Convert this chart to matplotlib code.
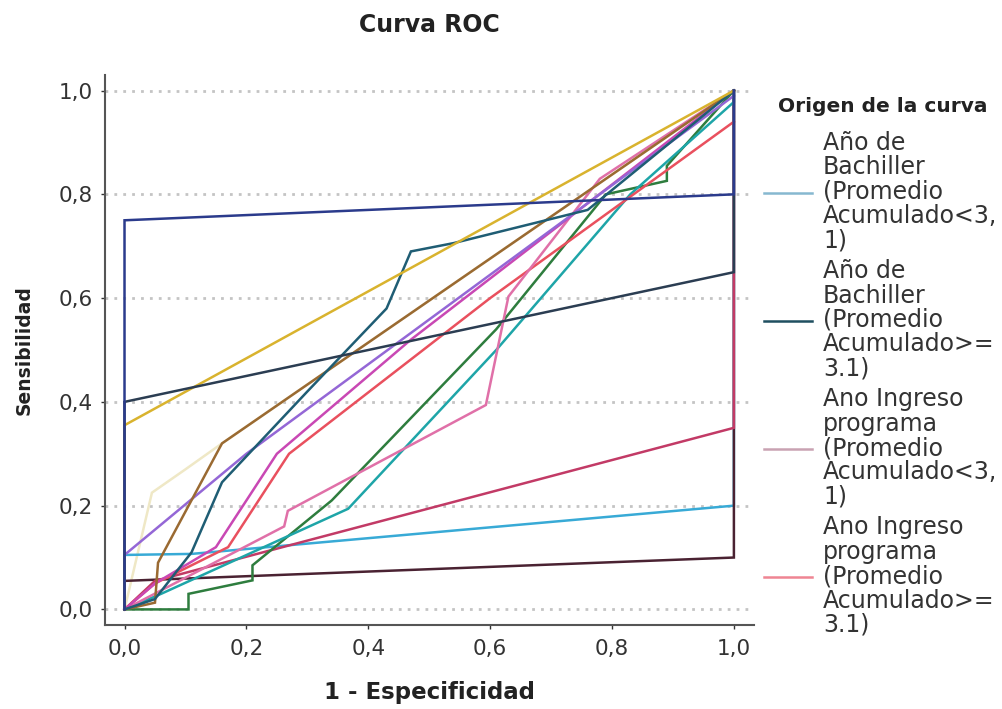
import matplotlib
matplotlib.use("Agg")
import matplotlib.pyplot as plt
from matplotlib.lines import Line2D
from matplotlib.ticker import FuncFormatter

# ---------------- data ----------------
curve_names = [
    "c_navy", "c_slate", "c_gold", "c_cyan", "c_maroon", "c_crimson",
    "c_green", "c_teal", "c_darkteal", "c_olive", "c_purple", "c_pink",
    "c_red", "c_cream", "c_magenta",
]

c_navy_x = [0, 0, 1, 1]
c_navy_y = [0, 0.75, 0.80, 1.0]

c_slate_x = [0, 0, 1, 1]
c_slate_y = [0, 0.40, 0.65, 1.0]

c_gold_x = [0, 0, 1]
c_gold_y = [0, 0.355, 1.0]

c_cyan_x = [0, 0, 0.11, 1, 1]
c_cyan_y = [0, 0.105, 0.107, 0.20, 1.0]

c_maroon_x = [0, 0, 1, 1]
c_maroon_y = [0, 0.055, 0.10, 1.0]

c_crimson_x = [0, 0.05, 1, 1]
c_crimson_y = [0, 0.055, 0.35, 1.0]

c_green_x = [0, 0.105, 0.105, 0.21, 0.21, 0.34, 0.61, 0.79, 0.89, 0.89, 1]
c_green_y = [0, 0, 0.03, 0.056, 0.085, 0.21, 0.54, 0.80, 0.826, 0.855, 1.0]

c_teal_x = [0, 0.06, 0.367, 0.61, 0.83, 1, 1]
c_teal_y = [0, 0.03, 0.194, 0.50, 0.80, 0.978, 1.0]

c_darkteal_x = [0, 0.05, 0.11, 0.16, 0.30, 0.43, 0.47, 0.54, 0.76, 1]
c_darkteal_y = [0, 0.02, 0.11, 0.245, 0.42, 0.58, 0.69, 0.706, 0.77, 1.0]

c_olive_x = [0, 0.05, 0.055, 0.16, 1]
c_olive_y = [0, 0.013, 0.09, 0.32, 1.0]

c_purple_x = [0, 0, 0.2, 1]
c_purple_y = [0, 0.105, 0.30, 0.99]

c_pink_x = [0, 0.262, 0.268, 0.593, 0.63, 0.78, 1]
c_pink_y = [0, 0.16, 0.19, 0.394, 0.603, 0.83, 1.0]

c_red_x = [0, 0.05, 0.17, 0.27, 0.60, 1]
c_red_y = [0, 0.05, 0.12, 0.30, 0.60, 0.94]

c_cream_x = [0, 0.03, 0.045, 0.10, 0.16, 1]
c_cream_y = [0, 0.15, 0.225, 0.27, 0.32, 1.0]

c_magenta_x = [0, 0.05, 0.15, 0.25, 0.47, 1]
c_magenta_y = [0, 0.05, 0.12, 0.30, 0.52, 1.0]

xticks = [0.0, 0.2, 0.4, 0.6, 0.8, 1.0]
yticks = [0.0, 0.2, 0.4, 0.6, 0.8, 1.0]

legend_title = "Origen de la curva"
legend_labels = [
    "Año de\nBachiller\n(Promedio\nAcumulado<3,\n1)",
    "Año de\nBachiller\n(Promedio\nAcumulado>=\n3.1)",
    "Ano Ingreso\nprograma\n(Promedio\nAcumulado<3,\n1)",
    "Ano Ingreso\nprograma\n(Promedio\nAcumulado>=\n3.1)",
]

# ---------------- styles ----------------
curve_colors = {
    "c_cream": "#efe8c6",
    "c_cyan": "#38aad6",
    "c_maroon": "#4a2232",
    "c_crimson": "#c23a66",
    "c_green": "#2e7d3e",
    "c_teal": "#1ea5a8",
    "c_red": "#e9505e",
    "c_pink": "#e070a8",
    "c_magenta": "#c948b4",
    "c_purple": "#9467d6",
    "c_olive": "#9a6a32",
    "c_darkteal": "#1f5d74",
    "c_gold": "#d9b32e",
    "c_slate": "#2b3d52",
    "c_navy": "#2b3b8c",
}
legend_colors = ["#86b8d0", "#1f4f60", "#c9a2b2", "#ef8593"]

draw_order = ["c_cream", "c_cyan", "c_maroon", "c_crimson", "c_green", "c_teal",
              "c_red", "c_pink", "c_magenta", "c_purple", "c_olive",
              "c_darkteal", "c_gold", "c_slate", "c_navy"]

plt.rcParams["font.family"] = ["DejaVu Sans"]

fig = plt.figure(figsize=(10.02, 7.09), dpi=100)
ax = fig.add_axes([0.1048, 0.1185, 0.6477, 0.7757])

g = globals()
for name in draw_order:
    ax.plot(g[name + "_x"], g[name + "_y"], color=curve_colors[name],
            lw=1.8, solid_joinstyle="miter", zorder=3)

for yv in yticks:
    ax.axhline(yv, color="#c4c4c4", lw=2.0, linestyle=(0, (1, 2.2)), zorder=1)

ax.set_xlim(-0.032, 1.033)
ax.set_ylim(-0.030, 1.030)
ax.set_xticks(xticks)
ax.set_yticks(yticks)
fmt = FuncFormatter(lambda v, p: f"{v:.1f}".replace(".", ","))
ax.xaxis.set_major_formatter(fmt)
ax.yaxis.set_major_formatter(fmt)
ax.tick_params(axis="both", labelsize=15.5, colors="#333333", length=3, width=1)
ax.tick_params(axis="x", pad=7)
ax.tick_params(axis="y", pad=6)

for s in ["top", "right"]:
    ax.spines[s].set_visible(False)
for s in ["left", "bottom"]:
    ax.spines[s].set_color("#555555")
    ax.spines[s].set_linewidth(1.5)

ax.set_title("Curva ROC", fontsize=17, fontweight="bold", color="#222222", pad=31)
ax.set_xlabel("1 - Especificidad", fontsize=16.5, fontweight="bold", color="#222222", labelpad=16)
ax.set_ylabel("Sensibilidad", fontsize=13.5, fontweight="bold", color="#222222", labelpad=18)

fig.text(0.8805, 1 - 106 / 709, legend_title, fontsize=14.5, fontweight="bold",
         color="#222222", ha="center", va="center")

handles = [Line2D([0], [0], color=c, lw=1.8) for c in legend_colors]
leg = fig.legend(handles, legend_labels, loc="upper left",
                 bbox_to_anchor=(0.7625, 1 - 131 / 709), frameon=False,
                 prop={"size": 17},
                 handlelength=2.05, handletextpad=0.45, labelspacing=0.28,
                 borderaxespad=0, borderpad=0)
for t in leg.get_texts():
    t.set_linespacing(1.02)
    t.set_color("#333333")

fig.savefig("out.png", dpi=100)
